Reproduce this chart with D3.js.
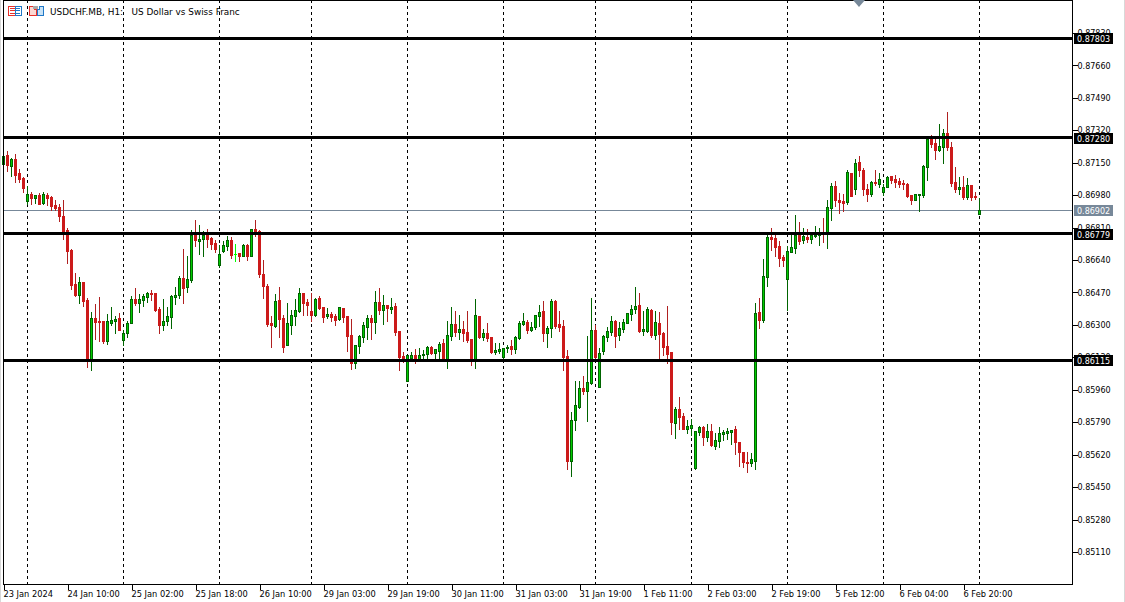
<!DOCTYPE html>
<html>
<head>
<meta charset="utf-8">
<script src="https://cdn.jsdelivr.net/npm/d3@7"></script>
<style>
  html, body { margin: 0; padding: 0; background: #fff; overflow: hidden; }
  svg { display: block; }
  text { font-family: "DejaVu Sans", sans-serif; font-size: 8px; fill: #000; }
</style>
</head>
<body>
<svg id="chart" width="1125" height="602"></svg>
<script>
// prices are in points (1 point = 0.00001), one bar per hour
const highs = [
  87207,87212,87175,87196,87118,87076,87028,86997,86981,86992,
  86997,86992,86976,86955,86934,86955,86808,86698,86572,86551,
  86525,86441,86368,86410,86447,86321,86358,86394,86347,86363,
  86274,86321,86452,86494,86462,86462,86473,86483,86468,86394,
  86436,86394,86457,86499,86557,86698,86662,86798,86850,86824,
  86793,86803,86761,86745,86719,86740,86766,86761,86724,86677,
  86724,86724,86803,86850,86798,86641,86515,86347,86462,86499,
  86352,86415,86378,86436,86494,86467,86436,86467,86441,86452,
  86394,86389,86368,86357,86394,86389,86347,86331,86195,86247,
  86315,86352,86352,86478,86494,86457,86405,86441,86415,86268,
  86158,86142,86158,86174,86179,86169,86190,86190,86174,86211,
  86226,86321,86394,86373,86352,86321,86373,86226,86436,86347,
  86279,86310,86237,86205,86205,86179,86195,86221,86242,86320,
  86363,86326,86315,86352,86405,86426,86294,86436,86431,86373,
  86326,86169,85844,86006,86006,86032,86242,86441,86300,86179,
  86247,86289,86347,86326,86315,86331,86363,86405,86499,86467,
  86373,86394,86384,86373,86368,86263,86399,86158,85870,85922,
  85838,85802,85807,85744,85770,85770,85781,85781,85734,85765,
  85749,85760,85749,85770,85686,85634,85634,85629,86415,86441,
  86646,86780,86808,86771,86740,86667,86714,86780,86876,86840,
  86808,86803,86787,86819,86808,86860,86955,87044,87054,86992,
  86986,87112,87096,87170,87185,87123,87039,87054,87112,87096,
  87039,87081,87081,87086,87070,87060,87044,86981,86986,86986,
  87138,87280,87296,87275,87353,87327,87416,87259,87128,87075,
  87081,87070,87033,86997,86965
];
const lows = [
  87144,87109,87081,87049,87049,86997,86934,86934,86939,86934,
  86934,86929,86903,86903,86845,86751,86625,86489,86452,86415,
  86399,86080,86064,86227,86216,86206,86200,86300,86258,86274,
  86195,86237,86310,86405,86368,86399,86420,86431,86373,86258,
  86274,86300,86284,86410,86441,86415,86473,86525,86714,86672,
  86662,86709,86698,86683,86604,86683,86693,86651,86635,86635,
  86662,86641,86662,86766,86551,86441,86294,86184,86289,86237,
  86158,86195,86253,86300,86368,86352,86352,86320,86347,86384,
  86315,86336,86320,86300,86326,86315,86163,86069,86074,86153,
  86211,86226,86226,86258,86357,86305,86321,86363,86247,86064,
  86108,86006,86121,86100,86113,86116,86116,86148,86116,86116,
  86116,86074,86221,86242,86226,86216,86211,86090,86074,86232,
  86221,86216,86153,86148,86153,86127,86158,86148,86153,86226,
  86300,86258,86268,86279,86294,86216,86184,86237,86284,86268,
  86064,85545,85508,85749,85865,85938,85797,85990,86116,85975,
  86148,86216,86247,86184,86221,86263,86310,86326,86363,86263,
  86247,86263,86237,86226,86116,86142,86100,85728,85707,85755,
  85755,85734,85723,85545,85723,85671,85692,85665,85650,85660,
  85697,85702,85676,85624,85561,85555,85529,85561,85545,86284,
  86315,86504,86693,86661,86609,86609,86378,86682,86677,86724,
  86729,86735,86729,86761,86719,86735,86703,86850,86923,86887,
  86897,86934,86976,86986,87081,86981,86950,86976,87033,87023,
  86981,87023,87044,87023,87023,87012,86971,86934,86955,86897,
  86971,87060,87233,87170,87212,87149,87217,87028,86997,86986,
  86960,86960,86955,86960,86881
];
const opens = [
  87144,87191,87133,87170,87097,87070,86950,86987,86966,86981,
  86939,86981,86971,86929,86918,86871,86798,86693,86515,86457,
  86525,86431,86116,86337,86321,86321,86216,86310,86321,86337,
  86221,86258,86310,86436,86415,86431,86447,86468,86468,86384,
  86300,86321,86342,86447,86457,86546,86499,86536,86772,86740,
  86751,86772,86756,86730,86614,86688,86714,86745,86670,86677,
  86662,86719,86662,86803,86793,86567,86504,86310,86294,86431,
  86336,86195,86300,86347,86373,86467,86420,86373,86352,86441,
  86394,86347,86357,86347,86331,86389,86347,86247,86099,86190,
  86237,86289,86336,86315,86420,86378,86405,86384,86399,86268,
  86137,86006,86127,86142,86116,86142,86148,86184,86153,86163,
  86205,86116,86242,86305,86263,86279,86263,86226,86116,86347,
  86237,86258,86237,86158,86163,86132,86179,86190,86174,86232,
  86305,86315,86274,86289,86347,86373,86258,86284,86426,86305,
  86294,86137,85587,85802,85870,85969,85954,85996,86274,85975,
  86163,86237,86263,86321,86247,86279,86310,86357,86384,86405,
  86268,86268,86378,86247,86310,86258,86190,86158,85786,85859,
  85823,85755,85760,85550,85739,85765,85713,85744,85665,85692,
  85728,85734,85739,85755,85686,85634,85582,85576,85587,86368,
  86326,86553,86761,86756,86714,86656,86541,86682,86703,86780,
  86745,86761,86750,86766,86771,86780,86782,86913,87028,86955,
  86950,86944,87096,87012,87154,87112,87012,86986,87049,87039,
  86997,87023,87081,87065,87054,87044,87039,86981,86955,86981,
  86981,87128,87275,87254,87217,87233,87306,87233,87049,87012,
  87023,86971,87033,86976,86881
];
const closes = [
  87186,87139,87170,87086,87065,87018,86987,86966,86981,86934,
  86987,86966,86924,86913,86871,86787,86688,86510,86457,86525,
  86426,86116,86337,86316,86316,86216,86321,86326,86331,86274,
  86258,86310,86436,86415,86436,86452,86468,86462,86379,86300,
  86321,86347,86452,86457,86546,86494,86541,86772,86745,86751,
  86772,86751,86724,86698,86672,86719,86745,86667,86670,86662,
  86719,86662,86803,86787,86567,86504,86305,86300,86426,86331,
  86184,86310,86352,86378,86467,86415,86405,86352,86436,86389,
  86342,86357,86342,86326,86394,86342,86242,86099,86195,86242,
  86300,86336,86315,86420,86378,86405,86389,86394,86263,86130,
  86116,86142,86142,86120,86142,86148,86184,86153,86174,86200,
  86127,86247,86305,86263,86279,86258,86221,86116,86352,86237,
  86258,86232,86158,86169,86174,86179,86184,86174,86237,86310,
  86320,86274,86289,86352,86368,86258,86284,86426,86294,86289,
  86130,85587,85802,85880,85969,85954,86001,86274,86130,86153,
  86242,86268,86321,86242,86284,86315,86363,86384,86399,86268,
  86279,86384,86247,86315,86253,86184,86148,85791,85859,85817,
  85755,85770,85776,85744,85765,85713,85744,85671,85697,85734,
  85739,85744,85749,85686,85634,85582,85576,85597,86363,86326,
  86557,86761,86750,86708,86651,86640,86688,86708,86771,86740,
  86766,86750,86771,86771,86776,86777,86918,87028,86955,86944,
  86939,87102,86976,87149,87112,87012,86986,87049,87044,87065,
  87023,87075,87060,87049,87039,87039,86976,86955,86986,86986,
  87133,87275,87248,87217,87238,87306,87233,87044,87012,87023,
  86971,87033,86971,86971,86902
];

const priceTicks = [0.8783,0.8766,0.8749,0.8732,0.8715,0.8698,0.8681,0.8664,0.8647,0.863,0.8613,0.8596,0.8579,0.8562,0.8545,0.8528,0.8511];
const levels = [0.87803, 0.8728, 0.86779, 0.86115];
const lastPrice = 0.86902;

const timeTickBars = [0,16,32,48,64,80,96,112,128,144,160,176,192,208,224,240];
const timeLabels = ["23 Jan 2024","24 Jan 10:00","25 Jan 02:00","25 Jan 18:00","26 Jan 10:00","29 Jan 03:00","29 Jan 19:00","30 Jan 11:00","31 Jan 03:00","31 Jan 19:00","1 Feb 11:00","2 Feb 03:00","2 Feb 19:00","5 Feb 12:00","6 Feb 04:00","6 Feb 20:00"];
const separatorBars = [6,30,54,77,101,125,148,172,196,220,244];

const colors = {
  up: "#00cc00", upEdge: "#006400", down: "#cc1a1a", downWick: "#b02020",
  flat: "#00ff00", last: "#778899", frame: "#000",
  iconRed: "#e8302a", iconBlue: "#1f78c8"
};

const svg = d3.select("#chart"),
  margin = { top: 0, right: 53, bottom: 18, left: 3 },
  width = +svg.attr("width") - margin.left - margin.right,
  height = +svg.attr("height") - margin.top - margin.bottom;

svg.attr("shape-rendering", "crispEdges");

const x = d3.scaleLinear().domain([0, 266]).range([margin.left, margin.left + 1064]);
const y = d3.scaleLinear().domain([0.88003, 0.84942]).range([0, height]);
const px = (v) => Math.round(x(v));
const py = (v) => Math.round(y(v));
const levelY = (v) => Math.floor(y(v) - 0.1) + 0.5;

// outer window edges
svg.append("rect").attr("x", 0).attr("y", 0).attr("width", 1).attr("height", 602).attr("fill", "#d8d8d8");
svg.append("rect").attr("x", 1124).attr("y", 0).attr("width", 1).attr("height", 602).attr("fill", "#d8d8d8");

// period separators
svg.append("g")
  .selectAll("line")
  .data(separatorBars)
  .enter()
  .append("line")
  .attr("x1", (d) => px(d) + 0.5)
  .attr("x2", (d) => px(d) + 0.5)
  .attr("y1", 0)
  .attr("y2", height)
  .attr("stroke", "#000")
  .attr("stroke-dasharray", "3,3");

// last price line goes under the candles
svg.append("line")
  .attr("x1", margin.left)
  .attr("x2", margin.left + width)
  .attr("y1", py(lastPrice) + 0.5)
  .attr("y2", py(lastPrice) + 0.5)
  .attr("stroke", colors.last);

const candles = d3.range(highs.length).map((i) => ({
  i,
  open: opens[i] / 1e5,
  high: highs[i] / 1e5,
  low: lows[i] / 1e5,
  close: closes[i] / 1e5,
}));

const bars = svg.append("g").selectAll("g").data(candles).enter().append("g");

bars
  .append("line")
  .attr("x1", (d) => px(d.i) + 0.5)
  .attr("x2", (d) => px(d.i) + 0.5)
  .attr("y1", (d) => py(d.high))
  .attr("y2", (d) => py(d.low) + 1)
  .attr("stroke", (d) =>
    d.close > d.open ? colors.upEdge : d.close < d.open ? colors.downWick : colors.flat
  );

// red bodies are flat, green ones have a dark edge round a bright centre
bars
  .filter((d) => d.close < d.open)
  .append("rect")
  .attr("x", (d) => px(d.i) - 1)
  .attr("y", (d) => py(d.open))
  .attr("width", 3)
  .attr("height", (d) => Math.max(1, py(d.close) - py(d.open) + 1))
  .attr("fill", colors.down);

bars
  .filter((d) => d.close > d.open)
  .append("rect")
  .attr("x", (d) => px(d.i) - 0.5)
  .attr("y", (d) => py(d.close) + 0.5)
  .attr("width", 2)
  .attr("height", (d) => Math.max(1, py(d.open) - py(d.close)))
  .attr("fill", colors.up)
  .attr("stroke", colors.upEdge);

bars
  .filter((d) => d.close === d.open)
  .append("line")
  .attr("x1", (d) => px(d.i) - 1)
  .attr("x2", (d) => px(d.i) + 2)
  .attr("y1", (d) => py(d.close) + 0.5)
  .attr("y2", (d) => py(d.close) + 0.5)
  .attr("stroke", colors.flat);

// support and resistance levels sit on top of the bars
svg.append("g")
  .selectAll("line")
  .data(levels)
  .enter()
  .append("line")
  .attr("x1", margin.left)
  .attr("x2", margin.left + width)
  .attr("y1", (d) => levelY(d))
  .attr("y2", (d) => levelY(d))
  .attr("stroke", "#000")
  .attr("stroke-width", 3);

// axes
const priceAxis = svg.append("g")
  .attr("transform", `translate(${margin.left + width + 0.5},0)`)
  .call(d3.axisRight(y).tickValues(priceTicks).tickFormat(d3.format(".5f")).tickSize(5).tickPadding(0));
priceAxis.select(".domain").remove();
priceAxis.selectAll("line").attr("stroke", colors.frame);
priceAxis.selectAll("text").style("font-family", '"DejaVu Sans", sans-serif').style("font-size", "8px").attr("fill", "#000");

const timeAxis = svg.append("g")
  .attr("transform", `translate(0,${height + 0.5})`)
  .call(d3.axisBottom(x).tickValues(timeTickBars).tickFormat((d, i) => timeLabels[i]).tickSize(5).tickPadding(2));
timeAxis.select(".domain").remove();
timeAxis.selectAll("line").attr("stroke", colors.frame).attr("transform", "translate(0.5,0)");
timeAxis.selectAll("text")
  .style("font-family", '"DejaVu Sans", sans-serif')
  .style("font-size", "8.25px")
  .attr("text-anchor", "start")
  .attr("fill", "#000");

// frame
svg.append("rect")
  .attr("x", margin.left + 0.5)
  .attr("y", 0.5)
  .attr("width", width)
  .attr("height", height)
  .attr("fill", "none")
  .attr("stroke", colors.frame);

// price labels on the scale
const tags = svg.append("g")
  .selectAll("g")
  .data(levels.map((v) => ({ v, fill: "#000" })).concat([{ v: lastPrice, fill: colors.last }]))
  .enter()
  .append("g")
  .attr("transform", (d) => `translate(${margin.left + width + 2},${py(d.v)})`);
tags.append("rect")
  .attr("x", 0)
  .attr("y", -5)
  .attr("width", 39)
  .attr("height", 11)
  .attr("fill", (d) => d.fill);
tags.append("text")
  .attr("x", 3)
  .attr("y", 3.5)
  .style("fill", "#fff")
  .text((d) => d3.format(".5f")(d.v));

// title and the two little terminal icons
svg.append("text")
  .attr("x", 50)
  .attr("y", 15)
  .style("font-size", "8.9px")
  .text("USDCHF.MB, H1:\u00a0\u00a0\u00a0US Dollar vs Swiss Franc");

const listIcon = svg.append("g").attr("fill", "none");
listIcon.append("rect").attr("x", 8.5).attr("y", 6.5).attr("width", 7).attr("height", 9).attr("stroke", colors.iconRed);
listIcon.append("rect").attr("x", 15.5).attr("y", 6.5).attr("width", 6).attr("height", 9).attr("stroke", colors.iconBlue);
[8, 10, 13].forEach((v) => {
  listIcon.append("line").attr("x1", 10).attr("x2", 15).attr("y1", v + 0.5).attr("y2", v + 0.5).attr("stroke", colors.iconRed);
  listIcon.append("line").attr("x1", 16).attr("x2", 20).attr("y1", v + 0.5).attr("y2", v + 0.5).attr("stroke", colors.iconBlue);
});
const caseIcon = svg.append("g");
caseIcon.append("path").attr("d", "M29.5 6.5h5v3h2v6h-7z").attr("fill", "#fbd8d2").attr("stroke", colors.iconRed);
caseIcon.append("rect").attr("x", 33).attr("y", 6).attr("width", 5).attr("height", 3).attr("fill", "#a8a8a8");
caseIcon.append("path").attr("d", "M37.5 9.5h2v-3h4v9h-6z").attr("fill", "#c8e2f6").attr("stroke", colors.iconBlue);

// shift marker at the top edge
svg.append("path").attr("d", "M853 0h12l-6 7z").attr("fill", colors.last).attr("shape-rendering", "auto");
</script>
</body>
</html>
